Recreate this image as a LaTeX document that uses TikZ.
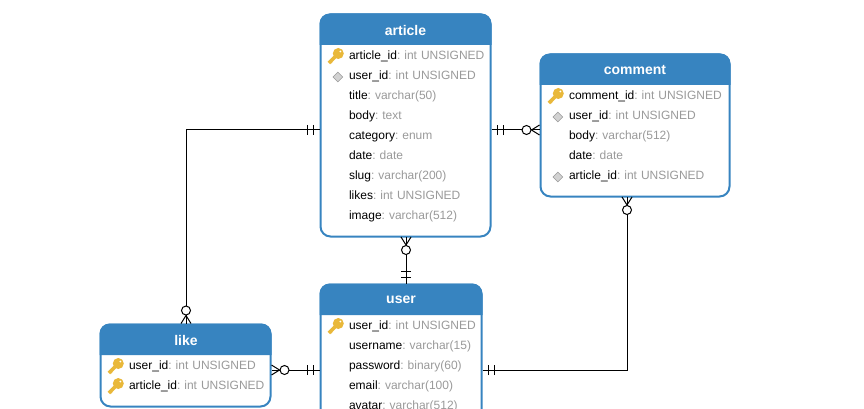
\documentclass[tikz,border=0pt]{standalone}
\usepackage{fontspec}
\setmainfont{Liberation Sans}
\usetikzlibrary{positioning,shapes.geometric,arrows.meta}

\definecolor{headblue}{HTML}{3784C0}
\definecolor{keygold}{HTML}{E9B83A}
\definecolor{typegray}{HTML}{9A9A9A}
\newcommand{\ftype}[1]{\textcolor{typegray}{#1}}

% crow's foot with circle, and the double bar
\pgfdeclarearrow{
  name=ERmany,
  setup code={\pgfarrowssettipend{0pt}\pgfarrowssetlineend{0pt}\pgfarrowssetbackend{-18pt}\pgfarrowssetvisualbackend{-18pt}},
  drawing code={
    \pgfpathmoveto{\pgfpoint{0pt}{5pt}}\pgfpathlineto{\pgfpoint{-8pt}{0pt}}\pgfpathlineto{\pgfpoint{0pt}{-5pt}}
    \pgfusepathqstroke
    \pgfsetfillcolor{white}
    \pgfpathcircle{\pgfpoint{-13pt}{0pt}}{4.5pt}
    \pgfusepathqfillstroke
  }
}
\pgfdeclarearrow{
  name=ERone,
  setup code={\pgfarrowssettipend{0pt}\pgfarrowssetlineend{0pt}\pgfarrowssetbackend{-13pt}\pgfarrowssetvisualbackend{-13pt}},
  drawing code={
    \pgfpathmoveto{\pgfpoint{-6pt}{5pt}}\pgfpathlineto{\pgfpoint{-6pt}{-5pt}}
    \pgfpathmoveto{\pgfpoint{-12pt}{5pt}}\pgfpathlineto{\pgfpoint{-12pt}{-5pt}}
    \pgfusepathqstroke
  }
}

\tikzset{
  pkkey/.pic={
    \fill[keygold] (3.5,-3.5) circle (5.5);
    \draw[keygold,line width=3.6pt] (3.5,-3.5) -- (-6,6);
    \draw[keygold,line width=1.6pt] (-5,3.5) -- (-3,6);
    \fill[white] (5.5,-5.5) circle (1);
  }
}

\begin{document}
\frenchspacing
\begin{tikzpicture}[x=1pt,y=-1pt,node distance=20pt,
    table box/.style={draw=headblue,line width=2pt,fill=white,rounded corners=10pt,inner sep=0pt,anchor=north west},
    table title/.style={text=white,font=\bfseries\fontsize{14}{14}\selectfont,inner sep=0pt},
    field/.style={text width=170pt,align=left,inner sep=0pt,text height=9pt,text depth=3pt,font=\fontsize{12}{12}\selectfont},
    fk mark/.style={diamond,draw=gray!80,fill=gray!35,inner sep=0pt,minimum size=10pt,line width=0.6pt},
    rel/.style={line width=1pt,rounded corners=0pt}]
    \clip (0,0) rectangle (864,409);

    % tables
    \node[table box,minimum width=170pt,minimum height=222pt] (article) at (319.5,13.5) {};
    \node[table box,minimum width=189pt,minimum height=142pt] (comment) at (539.5,53.5) {};
    \node[table box,minimum width=170pt,minimum height=82pt] (like) at (99.5,323.5) {};
    \node[table box,minimum width=161pt,minimum height=240pt] (user) at (319.5,283.5) {};

    % coloured heads
    \foreach \tbl/\hy in {article/45,comment/85,like/355,user/315}
        \fill[headblue] (\tbl.west |- 0,\hy) [rounded corners=10pt] -- (\tbl.north west) -- (\tbl.north east) [sharp corners] -- (\tbl.east |- 0,\hy) -- cycle;

    \node[table title] (articleT) at (405.5,30) {article};
    \node[table title] (commentT) at (635,70) {comment};
    \node[table title] (likeT) at (186,340) {like};
    \node[table title] (userT) at (401,300) {user};

    % article
    \node[field] (a1) at (434,56.5) {article\_id\ftype{: int UNSIGNED}};
    \node[field] (a2) [below of=a1] {user\_id\ftype{: int UNSIGNED}};
    \node[field] (a3) [below of=a2] {title\ftype{: varchar(50)}};
    \node[field] (a4) [below of=a3] {body\ftype{: text}};
    \node[field] (a5) [below of=a4] {category\ftype{: enum}};
    \node[field] (a6) [below of=a5] {date\ftype{: date}};
    \node[field] (a7) [below of=a6] {slug\ftype{: varchar(200)}};
    \node[field] (a8) [below of=a7] {likes\ftype{: int UNSIGNED}};
    \node[field] (a9) [below of=a8] {image\ftype{: varchar(512)}};

    % comment
    \node[field] (c1) at (654,96.5) {comment\_id\ftype{: int UNSIGNED}};
    \node[field] (c2) [below of=c1] {user\_id\ftype{: int UNSIGNED}};
    \node[field] (c3) [below of=c2] {body\ftype{: varchar(512)}};
    \node[field] (c4) [below of=c3] {date\ftype{: date}};
    \node[field] (c5) [below of=c4] {article\_id\ftype{: int UNSIGNED}};

    % like
    \node[field] (l1) at (214,366.5) {user\_id\ftype{: int UNSIGNED}};
    \node[field] (l2) [below of=l1] {article\_id\ftype{: int UNSIGNED}};

    % user
    \node[field] (u1) at (434,326.5) {user\_id\ftype{: int UNSIGNED}};
    \node[field] (u2) [below of=u1] {username\ftype{: varchar(15)}};
    \node[field] (u3) [below of=u2] {password\ftype{: binary(60)}};
    \node[field] (u4) [below of=u3] {email\ftype{: varchar(100)}};
    \node[field] (u5) [below of=u4] {avatar\ftype{: varchar(512)}};

    % keys and foreign key marks
    \foreach \fld in {a1,c1,l1,l2,u1}
        \pic at ([xshift=-14pt,yshift=-0.5pt]\fld.west) {pkkey};
    \foreach \fld in {a2,c2,c5}
        \node[fk mark] (\fld m) at ([xshift=-11pt,yshift=-0.5pt]\fld.west) {};

    % relations
    \coordinate (artL) at (article.west |- 0,130);
    \coordinate (artR) at (article.east |- 0,130);
    \coordinate (comL) at (comment.west |- 0,130);
    \coordinate (likT) at (186,323.5);
    \coordinate (artB) at (406,237);
    \coordinate (useT) at (406,283.5);
    \coordinate (likR) at (like.east |- 0,370);
    \coordinate (useL) at (user.west |- 0,370);
    \coordinate (useR) at (user.east |- 0,370);
    \coordinate (comB) at (627,197);

    \draw[rel,{ERone}-{ERmany}] (artL) -| (likT);
    \draw[rel,{ERone}-{ERmany}] (artR) -- (comL);
    \draw[rel,{ERone}-{ERmany}] (useT) -- (artB);
    \draw[rel,{ERone}-{ERmany}] (useL) -- (likR);
    \draw[rel,{ERone}-{ERmany}] (useR) -| (comB);
\end{tikzpicture}
\end{document}
